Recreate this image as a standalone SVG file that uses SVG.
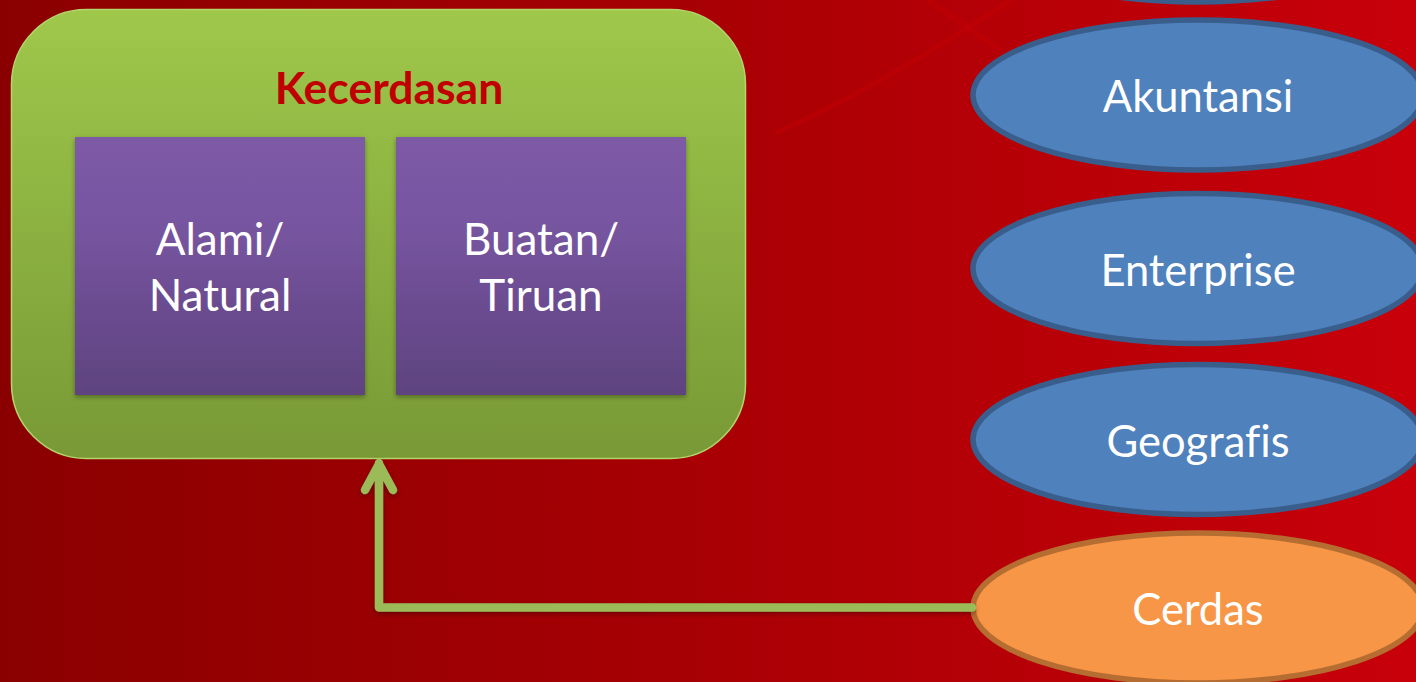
<svg xmlns="http://www.w3.org/2000/svg" width="1416" height="682" viewBox="0 0 1416 682">
<style>
text{font-family:"Lato","Open Sans","Liberation Sans",sans-serif;text-anchor:middle;fill:#fff;font-variant-ligatures:none}
.lbl{font-size:43.500px}
.box{font-size:44px}
.blue{fill:#4f81bd;stroke:#3a5e8c;stroke-width:5.500}
.orange{fill:#f79646;stroke:#b66d31;stroke-width:5.500}
.purple{fill:url(#pg);filter:url(#sh)}
</style>
<defs>
<linearGradient id="bg" x1="0" y1="0" x2="1" y2="0"><stop offset="0" stop-color="#8a0000"/><stop offset=".5" stop-color="#a80004"/><stop offset="1" stop-color="#c8000a"/></linearGradient>
<linearGradient id="gg" x1="0" y1="0" x2="0" y2="1"><stop offset="0" stop-color="#9fc84b"/><stop offset="1" stop-color="#789936"/></linearGradient>
<linearGradient id="pg" x1="0" y1="0" x2="0" y2="1"><stop offset="0" stop-color="#7c5aa6"/><stop offset=".3" stop-color="#7856a2"/><stop offset="1" stop-color="#5e437f"/></linearGradient>
<filter id="sh" x="-10%" y="-10%" width="120%" height="120%"><feDropShadow dx="0" dy="2" stdDeviation="2.500" flood-color="#000" flood-opacity=".35"/></filter>
<filter id="soft" x="-5%" y="-5%" width="110%" height="110%"><feGaussianBlur stdDeviation="1"/></filter>
</defs>
<rect width="1416" height="682" fill="url(#bg)"/>
<g fill="none" stroke="#c8000a" stroke-opacity=".45" stroke-width="4" filter="url(#soft)"><path d="M775 133Q880 85 967 28L1012 0"/><path d="M928 0L1000 50"/></g>
<g id="node-kecerdasan">
<rect x="11.500" y="9.500" width="734" height="449" rx="75" fill="url(#gg)" stroke="#b3d66a" stroke-width="1.500"/>
<text x="389" y="104" font-size="44.500" font-weight="700" style="fill:#c00000">Kecerdasan</text>
</g>
<g id="node-alami"><rect class="purple" x="75" y="137" width="290" height="258"/>
<text class="box" x="220" y="255">Alami/</text><text class="box" x="220" y="311">Natural</text></g>
<g id="node-buatan"><rect class="purple" x="396" y="137" width="290" height="258"/>
<text class="box" x="541" y="255">Buatan/</text><text class="box" x="541" y="311">Tiruan</text></g>
<g id="node-top"><ellipse class="blue" cx="1198" cy="-73" rx="225" ry="75"/></g>
<g id="node-akuntansi"><ellipse class="blue" cx="1198" cy="95" rx="225" ry="75"/><text class="lbl" x="1198" y="112">Akuntansi</text></g>
<g id="node-enterprise"><ellipse class="blue" cx="1198" cy="268.500" rx="225" ry="75"/><text class="lbl" x="1198" y="286">Enterprise</text></g>
<g id="node-geografis"><ellipse class="blue" cx="1198" cy="439.500" rx="225" ry="75"/><text class="lbl" x="1198" y="457">Geografis</text></g>
<g id="node-cerdas"><ellipse class="orange" cx="1198" cy="608" rx="225" ry="75"/><text class="lbl" x="1198" y="625">Cerdas</text></g>
<g id="connectors" filter="url(#sh)"><path d="M972 607.500H379V463M365 490L379 464L393 490" fill="none" stroke="#9bbb59" stroke-width="8.500" stroke-linecap="round" stroke-linejoin="round"/></g>
</svg>
